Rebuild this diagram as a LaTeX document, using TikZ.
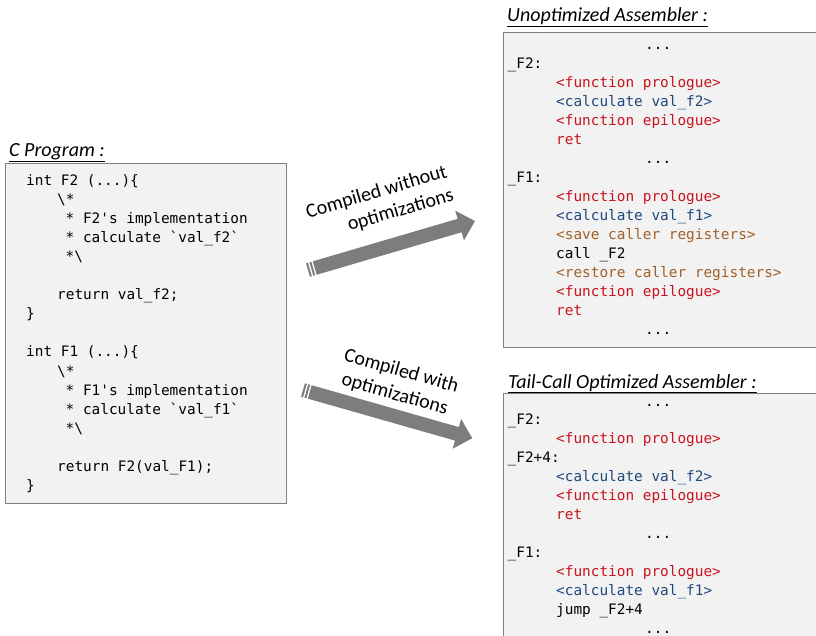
\documentclass[tikz,border=0pt]{standalone}
\usepackage{fontspec}
\newfontfamily\calib{Carlito}
\newfontfamily\codefont{DejaVu Sans Mono}
\definecolor{cred}{RGB}{200,20,30}
\definecolor{cblue}{RGB}{31,73,125}
\definecolor{cbrown}{RGB}{160,96,40}
\definecolor{boxfill}{RGB}{242,242,242}
\definecolor{boxline}{RGB}{128,128,128}
\definecolor{arrowgray}{RGB}{125,125,125}
\begin{document}
\begin{tikzpicture}[x=1pt,y=-1pt,
  code/.style={font=\codefont\fontsize{14.4}{19}\selectfont, anchor=base west, inner sep=0pt},
  kwred/.style={code, text=cred},
  kwblue/.style={code, text=cblue},
  kwbrown/.style={code, text=cbrown},
  title/.style={font=\calib\itshape\fontsize{20}{24}\selectfont, anchor=base west, inner sep=0pt},
  arrowlabel/.style={font=\calib\fontsize{20}{24}\selectfont, inner sep=0pt},
  codebox/.style={draw=boxline, fill=boxfill, line width=1pt, anchor=north west, inner sep=0pt}]
\useasboundingbox (0,0) rectangle (816,635);
\clip (0,0) rectangle (816,635);

% ---------- boxes ----------
\node[codebox, minimum width=281pt, minimum height=340pt] (cbox) at (5,163) {};
\node[codebox, minimum width=320pt, minimum height=315pt] (ubox) at (503,32) {};
\node[codebox, minimum width=320pt, minimum height=260pt] (tbox) at (503,393) {};

% ---------- titles ----------
\node[title] (ctitle) at (9,156) {\underline{C Program :}};
\node[title] (utitle) at (507,21.5) {\underline{Unoptimized Assembler :}};
\node[title] (ttitle) at (508,388) {\underline{Tail-Call Optimized Assembler :}};

% ---------- C program ----------
\node[code] (c0)  at (26,185.5)   {int F2 (...)\{};
\node[code] (c1)  at (57,204.55)  {\textbackslash*};
\node[code] (c2)  at (65.5,223.6) {* F2\textquotesingle s implementation};
\node[code] (c3)  at (65.5,242.65){* calculate \textasciigrave val\_f2\textasciigrave};
\node[code] (c4)  at (65.5,261.7) {*\textbackslash};
\node[code] (c6)  at (57,299.8)   {return val\_f2;};
\node[code] (c7)  at (26,318.85)  {\}};
\node[code] (c9)  at (26,356.95)  {int F1 (...)\{};
\node[code] (c10) at (57,376)     {\textbackslash*};
\node[code] (c11) at (65.5,395.05){* F1\textquotesingle s implementation};
\node[code] (c12) at (65.5,414.1) {* calculate \textasciigrave val\_f1\textasciigrave};
\node[code] (c13) at (65.5,433.15){*\textbackslash};
\node[code] (c15) at (57,471.25)  {return F2(val\_F1);};
\node[code] (c16) at (26,490.3)   {\}};

% ---------- unoptimized assembler ----------
\node[code]    (u0)  at (645,49)     {...};
\node[code]    (u1)  at (507.5,68.05){\_F2:};
\node[kwred]   (u2)  at (556,87.1)   {<function prologue>};
\node[kwblue]  (u3)  at (556,106.15) {<calculate val\_f2>};
\node[kwred]   (u4)  at (556,125.2)  {<function epilogue>};
\node[kwred]   (u5)  at (556,144.25) {ret};
\node[code]    (u6)  at (645,163.3)  {...};
\node[code]    (u7)  at (507.5,182.35){\_F1:};
\node[kwred]   (u8)  at (556,201.4)  {<function prologue>};
\node[kwblue]  (u9)  at (556,220.45) {<calculate val\_f1>};
\node[kwbrown] (u10) at (556,239.5)  {<save caller registers>};
\node[code]    (u11) at (556,258.55) {call \_F2};
\node[kwbrown] (u12) at (556,277.6)  {<restore caller registers>};
\node[kwred]   (u13) at (556,296.65) {<function epilogue>};
\node[kwred]   (u14) at (556,315.7)  {ret};
\node[code]    (u15) at (645,334.75) {...};

% ---------- tail-call optimized assembler ----------
\node[code]    (t0)  at (645,406)     {...};
\node[code]    (t1)  at (507.5,424.96){\_F2:};
\node[kwred]   (t2)  at (556,443.92)  {<function prologue>};
\node[code]    (t3)  at (507.5,462.88){\_F2+4:};
\node[kwblue]  (t4)  at (556,481.84)  {<calculate val\_f2>};
\node[kwred]   (t5)  at (556,500.8)   {<function epilogue>};
\node[kwred]   (t6)  at (556,519.76)  {ret};
\node[code]    (t7)  at (645,538.72)  {...};
\node[code]    (t8)  at (507.5,557.68){\_F1:};
\node[kwred]   (t9)  at (556,576.64)  {<function prologue>};
\node[kwblue]  (t10) at (556,595.6)   {<calculate val\_f1>};
\node[code]    (t11) at (556,614.56)  {jump \_F2+4};
\node[code]    (t12) at (645,633.52)  {...};

% ---------- arrows ----------
\coordinate (a1) at (308,270);
\coordinate (a2) at (303,390);
\begin{scope}[shift={(a1)}, rotate=16.35]
  \fill[arrowgray] (0,-7) rectangle (2,7);
  \fill[arrowgray] (3.5,-7) rectangle (5.5,7);
  \fill[arrowgray] (7,-7) -- (158,-7) -- (158,-15.5) -- (174,0) -- (158,15.5) -- (158,7) -- (7,7) -- cycle;
\end{scope}
\begin{scope}[shift={(a2)}, rotate=-15.9]
  \fill[arrowgray] (0,-7) rectangle (2,7);
  \fill[arrowgray] (3.5,-7) rectangle (5.5,7);
  \fill[arrowgray] (7,-7) -- (160,-7) -- (160,-15.5) -- (176,0) -- (160,15.5) -- (160,7) -- (7,7) -- cycle;
\end{scope}
\node[arrowlabel, rotate=16.35, align=right] (l1) at (380,204) {Compiled without\\optimizations};
\node[arrowlabel, rotate=-15.9, align=center] (l2) at (398,383) {Compiled with\\optimizations};
\end{tikzpicture}
\end{document}
